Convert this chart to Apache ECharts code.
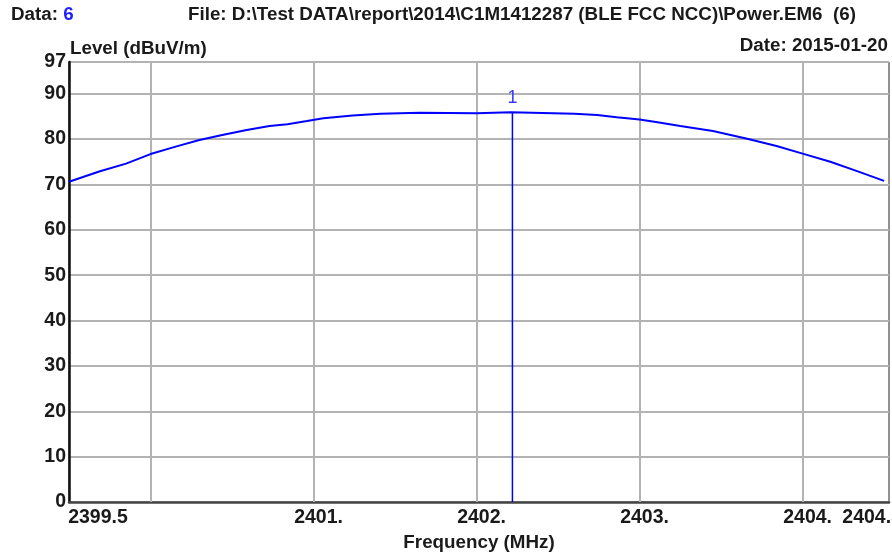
<!DOCTYPE html>
<html>
<head>
<meta charset="utf-8">
<script src="https://cdn.jsdelivr.net/npm/echarts@6/dist/echarts.min.js"></script>
<style>
  html, body { margin: 0; padding: 0; background: #fff; }
  #chart { width: 892px; height: 555px; }
</style>
</head>
<body>
<div id="chart"></div>
<script>
// Measured trace: frequency (MHz) and level (dBuV/m)
const freqMHz = [
  2399.50, 2399.69, 2399.85, 2400.00, 2400.16, 2400.30, 2400.44, 2400.59,
  2400.73, 2400.84, 2400.96, 2401.06, 2401.24, 2401.41, 2401.65, 2402.00,
  2402.21, 2402.60, 2402.74, 2402.86, 2403.00, 2403.11, 2403.25, 2403.45,
  2403.66, 2403.84, 2404.00, 2404.17, 2404.33, 2404.50
];
const levelDb = [
  70.6, 72.9, 74.6, 76.7, 78.4, 79.8, 80.9, 82.0,
  82.9, 83.3, 84.0, 84.6, 85.2, 85.6, 85.8, 85.7,
  85.9, 85.6, 85.3, 84.8, 84.3, 83.7, 82.9, 81.8,
  80.1, 78.5, 76.8, 75.0, 73.0, 70.8
];

// Marker 1
const markerFreq = 2402.22;
const markerLevel = 85.9;
const markerName = '1';

// Axes
const xMin = 2399.5, xMax = 2404.53;
const xGridValues = [2400, 2401, 2402, 2403, 2404];
const xTickValues = [2399.5, 2401, 2402, 2403, 2404, 2404.5];
const xTickLabels = ['2399.5', '2401.', '2402.', '2403.', '2404.', '2404.5'];
const yMin = 0, yMax = 97, yStep = 10;

const fontFam = 'Liberation Sans, Arial, sans-serif';

const chart = echarts.init(document.getElementById('chart'));

function xLabel(v) {
  const i = xTickValues.findIndex(t => Math.abs(t - v) < 1e-6);
  if (i < 0) return '';
  if (i === 0) return '{first|' + xTickLabels[i] + '}';
  if (i === xTickValues.length - 1) return '{last|' + xTickLabels[i] + '}';
  return '{mid|' + xTickLabels[i] + '}';
}

const labelFont = { fontFamily: fontFam, fontWeight: 'bold', fontSize: 19.5, color: '#1a1a1a' };
const headFont = { fontFamily: fontFam, fontWeight: 'bold', fontSize: 18.8, color: '#1a1a1a' };

chart.setOption({
  animation: false,
  backgroundColor: '#ffffff',
  textStyle: { fontFamily: fontFam },
  title: [
    {
      text: '{k|Data: }{v|6}',
      left: 11, top: 5, padding: 0,
      textStyle: { rich: {
        k: Object.assign({}, headFont),
        v: Object.assign({}, headFont, { color: '#1f1fff' })
      } }
    },
    {
      text: 'File: D:\\Test DATA\\report\\2014\\C1M1412287 (BLE FCC NCC)\\Power.EM6  (6)',
      left: 188, top: 5, padding: 0,
      textStyle: headFont
    },
    {
      text: 'Date: 2015-01-20',
      right: 4, top: 36, padding: 0,
      textStyle: headFont
    },
    {
      // y-axis unit caption above the plot's top-left corner
      text: 'Level (dBuV/m)',
      left: 70, top: 39, padding: 0,
      textStyle: headFont
    }
  ],
  grid: {
    left: 69, right: 3, top: 62, bottom: 53,
    outerBoundsMode: 'none',
    containLabel: false,
    show: true, borderColor: '#222', borderWidth: 1, backgroundColor: '#fff'
  },
  xAxis: {
    type: 'value',
    min: xMin, max: xMax, interval: 0.5,
    name: 'Frequency (MHz)',
    nameLocation: 'middle',
    nameGap: 30,
    nameTextStyle: headFont,
    axisLine: { show: true, onZero: false, lineStyle: { color: '#444', width: 2.5 } },
    axisTick: { show: false },
    splitLine: { show: false },
    axisLabel: {
      show: true, margin: 6,
      formatter: xLabel,
      rich: {
        first: Object.assign({ padding: [0, 0, 0, 58] }, labelFont),
        mid: Object.assign({ padding: [0, 0, 0, 10] }, labelFont),
        last: Object.assign({ padding: [0, 24, 0, 0] }, labelFont)
      }
    }
  },
  yAxis: {
    type: 'value',
    min: yMin, max: yMax, interval: yStep,
    axisLine: { show: true, lineStyle: { color: '#111', width: 2.5 } },
    axisTick: { show: false },
    axisLabel: Object.assign({ margin: 3 }, labelFont),
    splitLine: { show: true, lineStyle: { color: '#b3b3b3', width: 2 } }
  },
  series: [
    {
      name: 'Level',
      type: 'line',
      data: freqMHz.map((f, i) => [f, levelDb[i]]),
      showSymbol: false,
      symbol: 'none',
      lineStyle: { color: '#0000ff', width: 2 },
      z: 3,
      markLine: {
        silent: true,
        symbol: 'none',
        label: { show: false },
        lineStyle: { color: '#b3b3b3', width: 2, type: 'solid' },
        data: xGridValues.map(v => ({ xAxis: v })),
        z: 1
      }
    },
    {
      name: 'Marker',
      type: 'line',
      data: [
        { value: [markerFreq, markerLevel], label: { show: true } },
        { value: [markerFreq, yMin], label: { show: false } }
      ],
      showSymbol: true,
      symbol: 'circle',
      symbolSize: 0.01,
      itemStyle: { color: '#0000ff' },
      lineStyle: { color: '#0000ff', width: 1.5 },
      label: {
        show: false, position: 'top', distance: 5,
        formatter: markerName,
        fontFamily: fontFam, fontSize: 18, color: '#3a3aff'
      },
      z: 4
    }
  ]
});
</script>
</body>
</html>
